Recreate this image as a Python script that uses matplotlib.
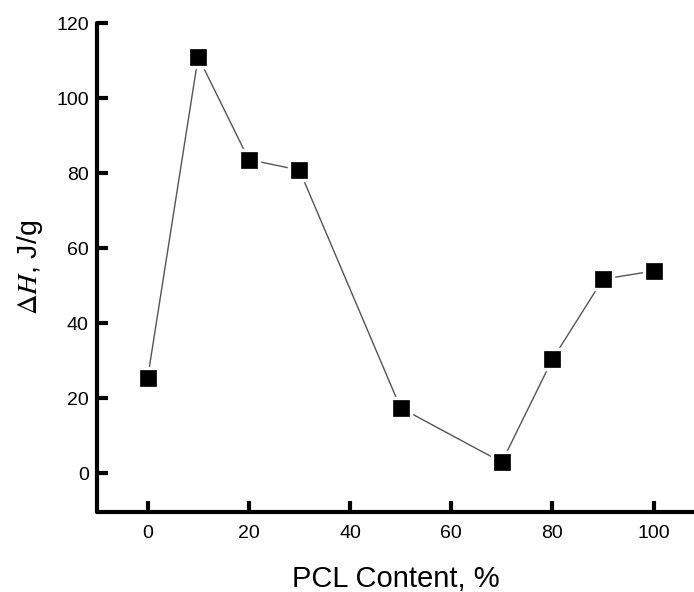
import matplotlib
matplotlib.use("Agg")
import matplotlib.pyplot as plt

pcl_content = [0, 10, 20, 30, 50, 70, 80, 90, 100]
delta_h = [25.3, 111.0, 83.6, 80.8, 17.4, 2.9, 30.3, 51.7, 53.9]
x_ticks = [0, 20, 40, 60, 80, 100]
y_ticks = [0, 20, 40, 60, 80, 100, 120]

plt.rcParams['font.family'] = ['Liberation Sans', 'DejaVu Sans']
plt.rcParams['mathtext.fontset'] = 'stix'

fig = plt.figure(figsize=(6.94, 5.92), dpi=100)
ax = fig.add_axes([0.1398, 0.135, 0.8602, 0.826])

ax.plot(pcl_content, delta_h, color='#555555', lw=1.0, zorder=2)
ax.plot(pcl_content, delta_h, ls='none', marker='s', ms=16, mfc='white', mec='white', zorder=3)
ax.plot(pcl_content, delta_h, ls='none', marker='s', ms=12, mfc='black', mec='black', mew=0.5, zorder=4)

ax.set_xlim(-10, 108)
ax.set_ylim(-10.4, 120)
ax.set_xticks(x_ticks)
ax.set_yticks(y_ticks)

for s in ['top', 'right']:
    ax.spines[s].set_visible(False)
for s in ['left', 'bottom']:
    ax.spines[s].set_linewidth(3)
    ax.spines[s].set_capstyle('round')

ax.tick_params(direction='in', length=8, width=3, labelsize=14, pad=6, colors='black')
ax.tick_params(axis='x', pad=9)

ax.set_xlabel('PCL Content, %', fontsize=21, labelpad=17)
ax.set_ylabel(r'$\Delta H$, J/g', fontsize=20.5, labelpad=8)

fig.savefig('out.png', dpi=100)
